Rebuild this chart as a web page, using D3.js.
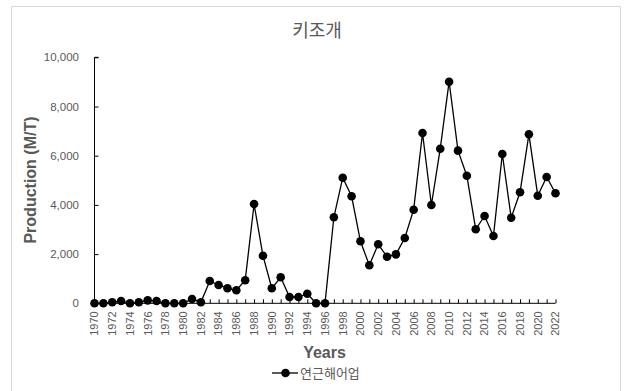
<!DOCTYPE html>
<html>
<head>
<meta charset="utf-8">
<script src="https://cdn.jsdelivr.net/npm/d3@7/dist/d3.min.js"></script>
<style>
  html, body { margin: 0; padding: 0; background: #fff; }
  svg { display: block; }
</style>
</head>
<body>
<svg id="chart" width="624" height="391"></svg>
<script>
// Annual production of pen shell (키조개), metric tons
const years = d3.range(1970, 2023);
const production = [
  0, 0, 40, 95, 0, 40, 120, 95, 0, 0,
  0, 175, 40, 905, 745, 610, 530, 935, 4035, 1935,
  610, 1057, 256, 256, 390, 0, 0, 3496, 5106, 4350,
  2520, 1545, 2398, 1895, 1990, 2655, 3805, 6923, 3996, 6285,
  9008, 6205, 5188, 3008, 3549, 2736, 6069, 3480, 4512, 6870,
  4374, 5134, 4472
];
const yTicks = [0, 2000, 4000, 6000, 8000, 10000];
const xLabelYears = years.filter(y => (y - 1970) % 2 === 0);
const chartTitle = "키조개";
const seriesName = "연근해어업";
const xTitle = "Years";
const yTitle = "Production (M/T)";

const svg = d3.select("#chart");
const latin = "'Liberation Sans', Arial, sans-serif";
const korean = "'Noto Sans CJK KR', 'Noto Sans', sans-serif";
const textGray = "#595959";

// chart frame
svg.append("rect")
  .attr("x", 11.5).attr("y", 6.5)
  .attr("width", 609).attr("height", 400)
  .attr("fill", "#fff").attr("stroke", "#d9d9d9");

const x = d3.scaleLinear().domain([1970, 2022]).range([94.5, 555.5]);
const y = d3.scaleLinear().domain([0, 10000]).range([303.3, 57.3]);

// title
svg.append("text")
  .attr("x", 317).attr("y", 37)
  .attr("text-anchor", "middle")
  .attr("font-family", korean).attr("font-size", 18)
  .attr("fill", textGray)
  .text(chartTitle);

// y axis
const yAxis = svg.append("g")
  .attr("transform", `translate(${x(1970)},0)`)
  .call(d3.axisRight(y).tickValues(yTicks).tickSize(4).tickFormat(""));
yAxis.select(".domain").attr("stroke", "#000").attr("d", `M4,${y(10000)}H0V${y(0)}`);
yAxis.selectAll(".tick line").attr("stroke", "#000");

svg.append("g").selectAll("text")
  .data(yTicks)
  .join("text")
  .attr("x", 79).attr("y", d => y(d))
  .attr("dy", "0.35em")
  .attr("text-anchor", "end")
  .attr("font-family", latin).attr("font-size", 11.5)
  .attr("fill", textGray)
  .text(d => d3.format(",")(d));

// x axis with inward ticks for every year
const xAxis = svg.append("g")
  .attr("transform", `translate(0,${y(0)})`)
  .call(d3.axisTop(x).tickValues(years).tickSize(4).tickFormat(""));
xAxis.select(".domain").attr("stroke", "#000").attr("d", `M${x(1970)},0H${x(2022)}`);
xAxis.selectAll(".tick line").attr("stroke", "#000");

svg.append("g").selectAll("text")
  .data(xLabelYears)
  .join("text")
  .attr("transform", d => `translate(${x(d)},${y(0) + 8}) rotate(-90)`)
  .attr("dy", "0.35em")
  .attr("text-anchor", "end")
  .attr("font-family", latin).attr("font-size", 11)
  .attr("fill", textGray)
  .text(d => d);

// axis titles
svg.append("text")
  .attr("x", 324.5).attr("y", 358)
  .attr("text-anchor", "middle")
  .attr("font-family", latin).attr("font-size", 16).attr("font-weight", "bold")
  .attr("fill", textGray)
  .text(xTitle);

svg.append("text")
  .attr("transform", `translate(36,180) rotate(-90)`)
  .attr("text-anchor", "middle")
  .attr("font-family", latin).attr("font-size", 16).attr("font-weight", "bold")
  .attr("fill", textGray)
  .text(yTitle);

// series line and markers
const data = years.map((yr, i) => ({ yr, v: production[i] }));
svg.append("path")
  .datum(data)
  .attr("fill", "none")
  .attr("stroke", "#000")
  .attr("stroke-width", 1.3)
  .attr("d", d3.line().x(d => x(d.yr)).y(d => y(d.v)));

svg.append("g").selectAll("circle")
  .data(data)
  .join("circle")
  .attr("cx", d => x(d.yr)).attr("cy", d => y(d.v))
  .attr("r", 4.3)
  .attr("fill", "#000");

// legend
const lg = svg.append("g").attr("transform", "translate(0,373)");
lg.append("line")
  .attr("x1", 272).attr("x2", 298).attr("y1", 0).attr("y2", 0)
  .attr("stroke", "#000").attr("stroke-width", 1.3);
lg.append("circle").attr("cx", 285.5).attr("cy", 0).attr("r", 4.3).attr("fill", "#000");
lg.append("text")
  .attr("x", 300).attr("y", 0).attr("dy", "0.35em")
  .attr("font-family", korean).attr("font-size", 13)
  .attr("fill", textGray)
  .text(seriesName);
</script>
</body>
</html>
